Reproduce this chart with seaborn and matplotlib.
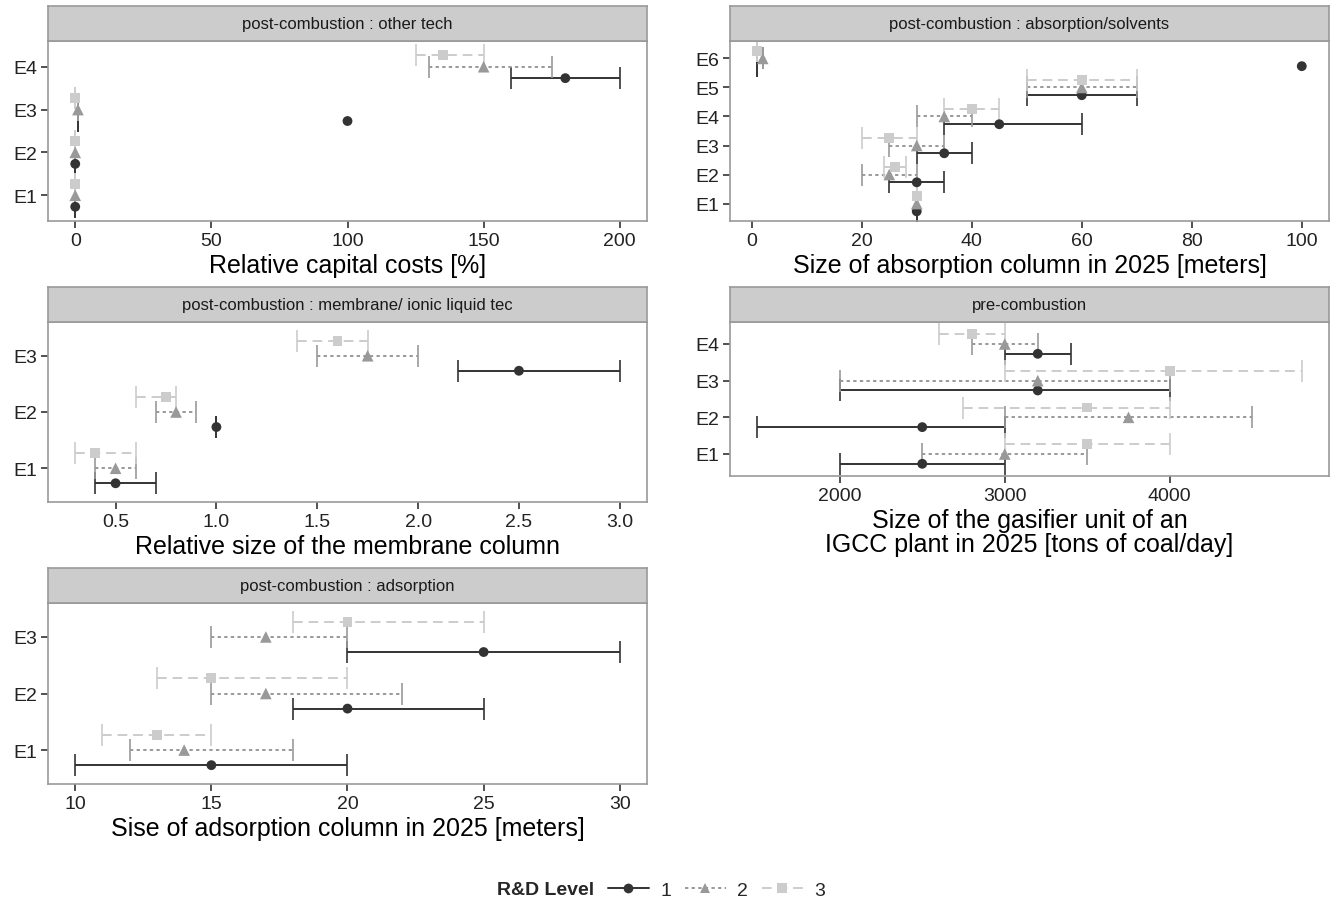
import pandas as pd
import seaborn as sns
import matplotlib.pyplot as plt
from matplotlib.lines import Line2D

# R&D levels and their look
levels = ['1', '2', '3']
level_colors = {'1': '#333333', '2': '#999999', '3': '#cccccc'}
level_markers = {'1': 'o', '2': '^', '3': 's'}
level_sizes = {'1': 50, '2': 70, '3': 50}
level_lines = {'1': '-', '2': (0, (1.7, 1.7)), '3': (0, (5, 3))}

# values per expert as (estimate, low, high), experts E1..En
other_experts = ['E1', 'E2', 'E3', 'E4']
other_l1 = [(0, 0, 0), (0, 0, 0), (100, 1, 1), (180, 160, 200)]
other_l2 = [(0, 0, 0), (0, 0, 0), (1, 1, 1), (150, 130, 175)]
other_l3 = [(0, 0, 0), (0, 0, 0), (0, 0, 0), (135, 125, 150)]

absorp_experts = ['E1', 'E2', 'E3', 'E4', 'E5', 'E6']
absorp_l1 = [(30, 30, 30), (30, 25, 35), (35, 30, 40), (45, 35, 60), (60, 50, 70), (100, 1, 1)]
absorp_l2 = [(30, 30, 30), (25, 20, 30), (30, 25, 35), (35, 30, 40), (60, 50, 70), (2, 2, 2)]
absorp_l3 = [(30, 30, 30), (26, 24, 28), (25, 20, 30), (40, 35, 45), (60, 50, 70), (1, 1, 1)]

membr_experts = ['E1', 'E2', 'E3']
membr_l1 = [(0.5, 0.4, 0.7), (1.0, 1.0, 1.0), (2.5, 2.2, 3.0)]
membr_l2 = [(0.5, 0.4, 0.6), (0.8, 0.7, 0.9), (1.75, 1.5, 2.0)]
membr_l3 = [(0.4, 0.3, 0.6), (0.75, 0.6, 0.8), (1.6, 1.4, 1.75)]

pre_experts = ['E1', 'E2', 'E3', 'E4']
pre_l1 = [(2500, 2000, 3000), (2500, 1500, 3000), (3200, 2000, 4000), (3200, 3000, 3400)]
pre_l2 = [(3000, 2500, 3500), (3750, 3000, 4500), (3200, 2000, 4000), (3000, 2800, 3200)]
pre_l3 = [(3500, 3000, 4000), (3500, 2750, 4000), (4000, 3000, 4800), (2800, 2600, 3000)]

adsorp_experts = ['E1', 'E2', 'E3']
adsorp_l1 = [(15, 10, 20), (20, 18, 25), (25, 20, 30)]
adsorp_l2 = [(14, 12, 18), (17, 15, 22), (17, 15, 20)]
adsorp_l3 = [(13, 11, 15), (15, 13, 20), (20, 18, 25)]

panels = [
    ('post-combustion : other tech', 'Relative capital costs [%]',
     other_experts, [other_l1, other_l2, other_l3], [0, 50, 100, 150, 200], ['0', '50', '100', '150', '200']),
    ('post-combustion : absorption/solvents', 'Size of absorption column in 2025 [meters]',
     absorp_experts, [absorp_l1, absorp_l2, absorp_l3], [0, 20, 40, 60, 80, 100], ['0', '20', '40', '60', '80', '100']),
    ('post-combustion : membrane/ ionic liquid tec', 'Relative size of the membrane column',
     membr_experts, [membr_l1, membr_l2, membr_l3], [0.5, 1.0, 1.5, 2.0, 2.5, 3.0], ['0.5', '1.0', '1.5', '2.0', '2.5', '3.0']),
    ('pre-combustion', 'Size of the gasifier unit of an\nIGCC plant in 2025 [tons of coal/day]',
     pre_experts, [pre_l1, pre_l2, pre_l3], [2000, 3000, 4000], ['2000', '3000', '4000']),
    ('post-combustion : adsorption', 'Sise of adsorption column in 2025 [meters]',
     adsorp_experts, [adsorp_l1, adsorp_l2, adsorp_l3], [10, 15, 20, 25, 30], ['10', '15', '20', '25', '30']),
]

# panel boxes in pixels: left, top, right, bottom
W, H = 1335, 904
boxes = [(48, 42, 647, 222), (730, 42, 1329, 222),
         (48, 323, 647, 503), (730, 323, 1329, 477),
         (48, 604, 647, 785)]
strip_h = 35

sns.set_theme(style='white')
plt.rcParams['font.family'] = ['Liberation Sans', 'DejaVu Sans']

fig = plt.figure(figsize=(W / 100, H / 100), dpi=100)

dodge = 0.267
for (title, xlabel, experts, series, ticks, ticklabels), (l, t, r, b) in zip(panels, boxes):
    ax = fig.add_axes([l / W, 1 - b / H, (r - l) / W, (b - t) / H])
    rows = []
    for lev, vals in zip(levels, series):
        for i, (mid, lo, hi) in enumerate(vals):
            rows.append({'expert': experts[i], 'level': lev, 'mid': mid, 'lo': lo, 'hi': hi,
                         'y': i + 1 + (int(lev) - 2) * dodge})
    d = pd.DataFrame(rows)

    for lev in levels:
        s = d[d['level'] == lev]
        ax.hlines(s['y'], s['lo'], s['hi'], colors=level_colors[lev],
                  linestyles=[level_lines[lev]], lw=1.4, zorder=2)
        ax.plot(pd.concat([s['lo'], s['hi']]), pd.concat([s['y'], s['y']]), ls='none',
                marker='|', markersize=16, mew=1.2, color=level_colors[lev], zorder=2)
    sns.scatterplot(data=d, x='mid', y='y', hue='level', style='level', size='level',
                    palette=level_colors, markers=level_markers, sizes=level_sizes,
                    linewidth=0, legend=False, ax=ax, zorder=3)

    ax.set_ylim(0.4, len(experts) + 0.6)
    ax.set_yticks(range(1, len(experts) + 1))
    ax.set_yticklabels(experts)
    ax.margins(x=0.05)
    ax.set_xticks(ticks)
    ax.set_xticklabels(ticklabels)
    ax.set_xlabel(xlabel, fontsize=18, color='black', labelpad=3, linespacing=1.0)
    ax.set_ylabel('')
    ax.tick_params(axis='both', which='major', direction='out', length=5, width=1.2,
                   color='#333333', labelsize=14, labelcolor='#222222', pad=3,
                   bottom=True, left=True)
    for sp in ax.spines.values():
        sp.set_color('#999999')
        sp.set_linewidth(1.2)

    sax = fig.add_axes([l / W, 1 - t / H, (r - l) / W, strip_h / H])
    sax.set_facecolor('#cccccc')
    sax.set_xticks([])
    sax.set_yticks([])
    for sp in sax.spines.values():
        sp.set_color('#999999')
        sp.set_linewidth(1.2)
    sax.text(0.5, 0.5, title, ha='center', va='center', fontsize=12, color='#1a1a1a',
             transform=sax.transAxes)

# legend at the bottom
fig.text(497 / W, 1 - 891 / H, 'R&D Level', fontsize=14, fontweight='bold',
         ha='left', va='center')
handles = [Line2D([0], [0], color=level_colors[lev], linestyle=level_lines[lev], lw=1.4,
                  marker=level_markers[lev], markersize=7, markeredgewidth=0)
           for lev in levels]
fig.legend(handles, levels, loc='center left', bbox_to_anchor=(608 / W, 1 - 891 / H),
           ncol=3, frameon=False, fontsize=14, handlelength=2.1, handletextpad=0.6,
           columnspacing=0.7, borderpad=0, borderaxespad=0)

fig.savefig('out.png', dpi=100)
